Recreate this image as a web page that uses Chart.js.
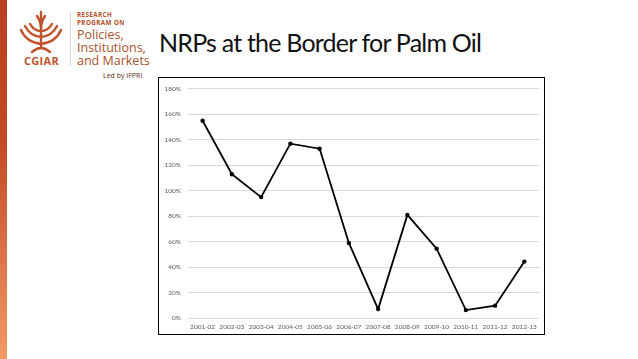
<!DOCTYPE html>
<html>
<head>
    <title>NRPs at the Border for Palm Oil</title>
    <script src="https://cdn.jsdelivr.net/npm/chart.js"></script>
    <style>
        body { margin: 0; background: #fff; font-family: Lato, "Open Sans", sans-serif; }
        .slide { position: relative; width: 638px; height: 359px; overflow: hidden; background: #fff; }
        .side-bar { position: absolute; left: 0; top: 0; width: 7px; height: 359px;
            background: linear-gradient(to bottom, #b8401f 0%, #c44a25 40%, #f29a66 100%); }
        .emblem { position: absolute; left: 18px; top: 8px; }
        .cgiar { position: absolute; left: 24px; top: 53px; font: bold 11px "Open Sans", sans-serif; color: #c0532a; letter-spacing: 0.3px; }
        .divider { position: absolute; left: 70px; top: 12px; width: 1px; height: 54px; background: #e6d3c8; }
        .prog { position: absolute; left: 77px; color: #b3502a; }
        .prog.small { font: bold 6.3px "Open Sans", sans-serif; letter-spacing: 0.4px; }
        .prog.big { font: 12.5px "Open Sans", sans-serif; color: #a9532e; }
        .led { position: absolute; left: 103px; top: 71px; font: 7px "Open Sans", sans-serif; color: #5b2c16; }
        .title { position: absolute; left: 159px; top: 27px; font-size: 25px; letter-spacing: -0.8px; color: #111; white-space: nowrap; }
        .chart-box { position: absolute; left: 158px; top: 77px; width: 385px; height: 256px; border: 1.3px solid #000; }
        .chart-box canvas { position: absolute; left: 0; top: 0; }
    </style>
</head>
<body>
<div class="slide">
    <div class="side-bar"></div>

    <svg class="emblem" width="46" height="46" viewBox="0 0 46 46">
        <g fill="none" stroke="#c0532a" stroke-width="2.4" stroke-linecap="round">
            <path d="M23 4 L23 40"/>
            <path d="M19 8 Q23 14 23 20 Q23 14 27 8"/>
            <path d="M3 22 Q8 34 23 36 Q38 34 43 22"/>
            <path d="M7 18 Q12 28 23 29 Q34 28 39 18"/>
            <path d="M12 16 Q16 23 23 23 Q30 23 34 16"/>
            <path d="M14 44 Q23 36 32 44"/>
        </g>
    </svg>
    <div class="cgiar">CGIAR</div>
    <div class="divider"></div>
    <div class="prog small" style="top: 10px;">RESEARCH</div>
    <div class="prog small" style="top: 18px;">PROGRAM ON</div>
    <div class="prog big" style="top: 26px;">Policies,</div>
    <div class="prog big" style="top: 39px;">Institutions,</div>
    <div class="prog big" style="top: 52px;">and Markets</div>
    <div class="led">Led by IFPRI</div>

    <div class="title">NRPs at the Border for Palm Oil</div>

    <div class="chart-box">
        <canvas id="nrpChart" width="385" height="256"></canvas>
    </div>
</div>

<script>
    // data
    const years = ['2001-02', '2002-03', '2003-04', '2004-05', '2005-06', '2006-07',
                   '2007-08', '2008-09', '2009-10', '2010-11', '2011-12', '2012-13'];
    const nrpValues = [1.55, 1.13, 0.95, 1.37, 1.33, 0.59, 0.07, 0.81, 0.545, 0.062, 0.097, 0.443];
    const yTicks = [0, 0.2, 0.4, 0.6, 0.8, 1.0, 1.2, 1.4, 1.6, 1.8];

    const tickFont = { family: 'Lato, "Open Sans", sans-serif', size: 6.5 };

    const ctx = document.getElementById('nrpChart').getContext('2d');
    new Chart(ctx, {
        type: 'line',
        data: {
            labels: years,
            datasets: [{
                data: nrpValues,
                borderColor: '#000',
                backgroundColor: '#000',
                borderWidth: 1.8,
                pointRadius: 2.2,
                pointBorderWidth: 0,
                tension: 0,
                fill: false
            }]
        },
        options: {
            responsive: false,
            animation: false,
            layout: { padding: { top: 8, right: 5, bottom: 0, left: 0 } },
            plugins: { legend: { display: false }, tooltip: { enabled: false } },
            scales: {
                x: {
                    offset: true,
                    grid: { display: false, drawTicks: false },
                    border: { display: false },
                    ticks: { font: tickFont, color: '#595959', maxRotation: 0, autoSkip: false, padding: 5 },
                    afterFit: function (scale) { scale.height = 16; }
                },
                y: {
                    min: 0,
                    max: 1.8,
                    afterBuildTicks: function (scale) { scale.ticks = yTicks.map(v => ({ value: v })); },
                    grid: { color: '#d9d9d9', lineWidth: 1, drawTicks: false },
                    border: { display: false },
                    ticks: {
                        font: tickFont,
                        color: '#595959',
                        padding: 7,
                        callback: function (val) { return Math.round(val * 100) + '%'; }
                    },
                    afterFit: function (scale) { scale.width = 29; }
                }
            }
        }
    });
</script>
</body>
</html>
